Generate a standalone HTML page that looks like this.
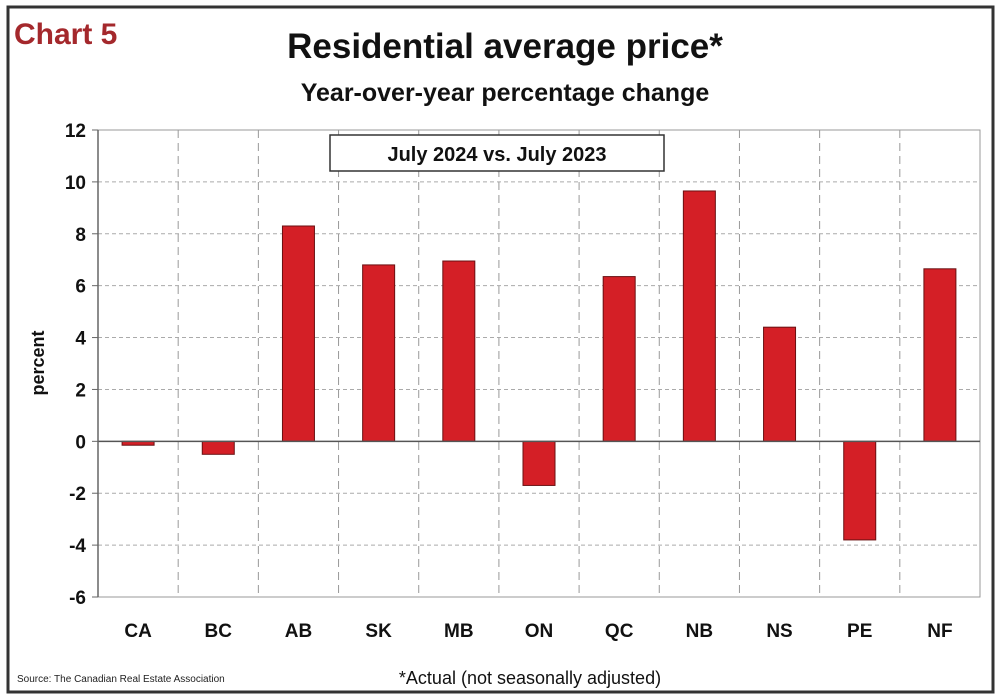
<!DOCTYPE html>
<html><head><meta charset="utf-8"><style>
body{margin:0;background:#fff;width:1000px;height:698px;overflow:hidden;font-family:"Liberation Sans",sans-serif}
</style></head><body>
<svg id="c" width="1000" height="698" style="position:absolute;left:0;top:0">
<rect x="8" y="7" width="985" height="685" fill="#fff" stroke="#333" stroke-width="3"/>
<text x="14" y="44" fill="#a4282c" font-size="30" font-weight="bold">Chart 5</text>
<text x="505" y="58" text-anchor="middle" font-size="35" font-weight="bold" fill="#111">Residential average price*</text>
<text x="505" y="101" text-anchor="middle" font-size="25" font-weight="bold" fill="#111">Year-over-year percentage change</text>
<g id="grid"></g>
<g id="bars"></g>
<g id="axes"></g>
<rect x="330" y="135" width="334" height="36" fill="#fff" stroke="#333" stroke-width="1.5"/>
<text x="497" y="161" text-anchor="middle" font-size="20" font-weight="bold" fill="#111">July 2024 vs. July 2023</text>
<text x="44" y="363" text-anchor="middle" font-size="18" font-weight="bold" fill="#111" transform="rotate(-90 44 363)">percent</text>
<text x="17" y="682" font-size="10" fill="#222">Source: The Canadian Real Estate Association</text>
<text x="530" y="684" text-anchor="middle" font-size="18" fill="#111">*Actual (not seasonally adjusted)</text>
</svg>
<script>
const categories=["CA","BC","AB","SK","MB","ON","QC","NB","NS","PE","NF"];
const values=[-0.15,-0.5,8.3,6.8,6.95,-1.7,6.35,9.65,4.4,-3.8,6.65];
const yTicks=[12,10,8,6,4,2,0,-2,-4,-6];
const NS="http://www.w3.org/2000/svg";
const L=98,R=980,T=130,B=597,yMin=-6,yMax=12;
const y=v=>T+(yMax-v)/(yMax-yMin)*(B-T);
const cw=(R-L)/categories.length;
const x=i=>L+cw*(i+0.5);
function mk(t,a,p){const e=document.createElementNS(NS,t);for(const k in a)e.setAttribute(k,a[k]);p.appendChild(e);return e;}
const grid=document.getElementById('grid'),bars=document.getElementById('bars'),axes=document.getElementById('axes');
yTicks.forEach(v=>{
 if(v!==0&&v!==-6){const g=mk('line',{x1:L,x2:R,y1:y(v),y2:y(v),stroke:'#aaa','stroke-dasharray':'4,3'},grid);
 
 }
 const tk=mk('line',{x1:L-6,x2:L,y1:y(v),y2:y(v),stroke:'#666'},axes);
 
 
 const t=mk('text',{x:L-12,y:y(v)+7,'text-anchor':'end','font-size':19,'font-weight':'bold',fill:'#111'},axes);
 t.textContent=v;
 
 
});
for(let i=1;i<categories.length;i++){
 const g=mk('line',{x1:L+cw*i,x2:L+cw*i,y1:T,y2:B,stroke:'#999','stroke-dasharray':'8,5'},grid);
 
 
}
const fr=mk('rect',{x:L,y:T,width:R-L,height:B-T,fill:'none',stroke:'#999'},grid);


const bw=32;
values.forEach((v,i)=>{
 const y0=y(0),yv=y(v);
 const r=mk('rect',{x:x(i)-bw/2,y:Math.min(y0,yv),width:bw,height:Math.abs(yv-y0),fill:'#d41f26',stroke:'#6a1012','stroke-width':1},bars);
 
 
 const t=mk('text',{x:x(i),y:637,'text-anchor':'middle','font-size':19,'font-weight':'bold',fill:'#111'},axes);
 t.textContent=categories[i];
 
 
});
const z=mk('line',{x1:L,x2:R,y1:y(0),y2:y(0),stroke:'#555','stroke-width':1.5},axes);


const ya=mk('line',{x1:L,x2:L,y1:T,y2:B,stroke:'#666','stroke-width':1.5},axes);


</script>
</body></html>
